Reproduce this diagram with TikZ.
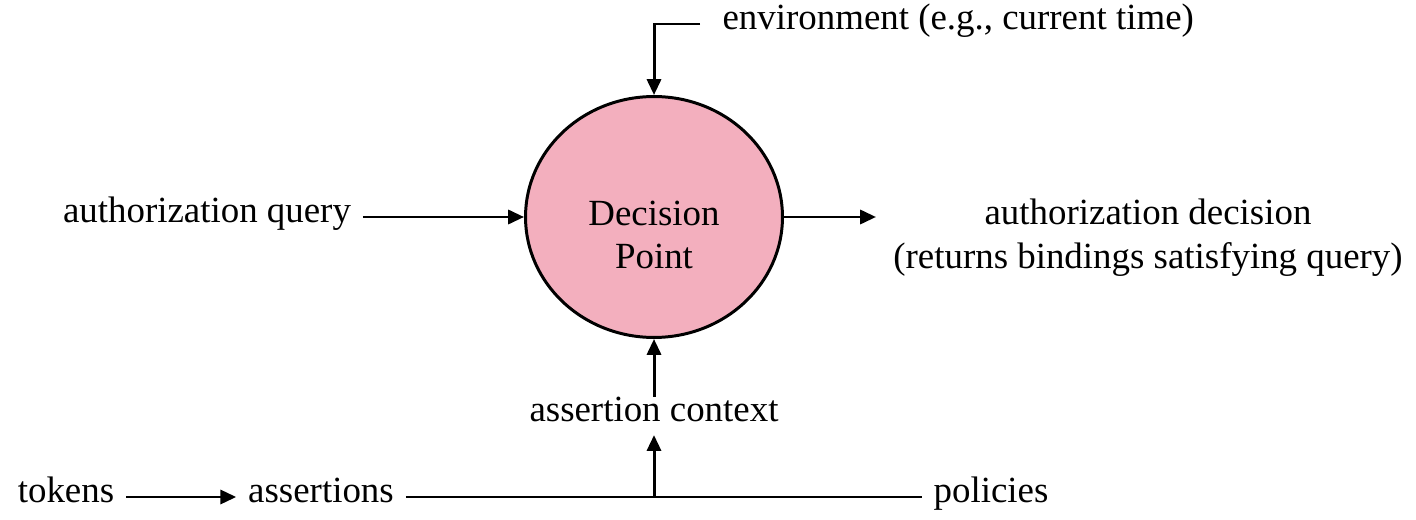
\documentclass[tikz,border=0pt]{standalone}
\usepackage{fontspec}
\setmainfont{Liberation Serif}
\usetikzlibrary{arrows.meta,shapes.geometric}

\definecolor{dppink}{HTML}{F3AFBE}

\begin{document}
\begin{tikzpicture}[x=0.02cm, y=-0.02cm, line width=1.7pt,
  >={Triangle[length=9pt,width=8pt]},
  txt/.style={font=\fontsize{21}{25}\selectfont, inner sep=6pt,
    text height=1.5ex, text depth=.25ex},
  block/.style={font=\fontsize{21}{25}\selectfont, align=center, inner sep=6pt}]

\useasboundingbox (0,0) rectangle (1416,520);

% Decision point
\node[ellipse, draw, fill=dppink, minimum width=5.14cm, minimum height=4.82cm,
  inner sep=0pt] (dp) at (654,217) {};
\node[block] (dplabel) at (654,235) {Decision\\Point};

% Environment
\node[txt, anchor=west, inner xsep=12pt] (env) at (700,24) {environment (e.g., current time)};
\draw[->] (env.west) -| (dp.north);

% Query and decision
\node[txt, anchor=west] (query) at (51,217) {authorization query};
\draw[->] (query.east) -- (dp.west);

\node[block] (decision) at (1148,238) {authorization decision\\(returns bindings satisfying query)};
\coordinate (outend) at (876,217);
\draw[->] (dp.east) -- (outend);

% Assertion context
\node[txt] (ctx) at (654,416) {assertion context};
\draw[->] (ctx) -- (dp);

% Bottom row
\node[txt] (tokens) at (66,497) {tokens};
\node[txt] (assertions) at (321,497) {assertions};
\node[txt] (policies) at (991,497) {policies};
\draw[->] (tokens) -- (assertions);
\draw (assertions) -- (policies);
\coordinate (join) at (654,497);
\draw[->] (join) -- (ctx);

\end{tikzpicture}
\end{document}
